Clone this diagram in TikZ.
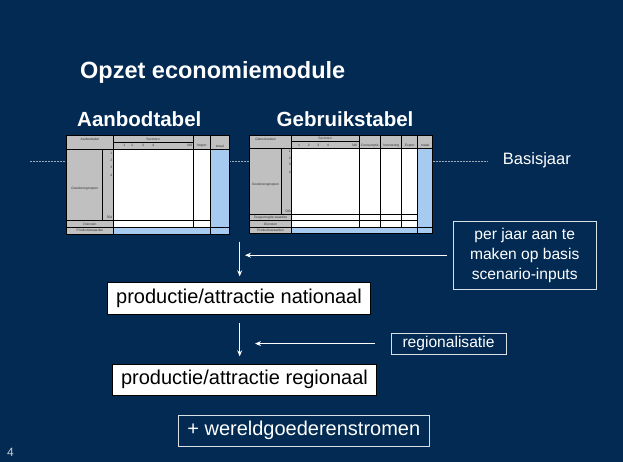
\documentclass[tikz,border=0pt]{standalone}
\usepackage{fontspec}
\setmainfont{Liberation Sans}
\usetikzlibrary{arrows.meta}
\definecolor{bg}{HTML}{022A52}
\definecolor{cellgrey}{HTML}{C0C0C0}
\definecolor{cellblue}{HTML}{A6CAF0}
\definecolor{dashcol}{HTML}{A0AAB6}
\definecolor{numcol}{HTML}{C8CCD2}
\tikzset{
  tinytxt/.style={font=\fontsize{3.3}{4}\selectfont, text=black!80, inner sep=0},
  whitebox/.style={draw=black, fill=white, line width=0.8pt, inner sep=0, text=black,
    font=\fontsize{20}{24}\selectfont},
  outlinebox/.style={draw=white!85!bg, line width=0.8pt, inner sep=0, text=white},
  arr/.style={draw=white, line width=1.3pt, -{Stealth[length=6pt,width=5pt]}},
  basisline/.style={draw=dashcol, line width=0.6pt, dash pattern=on 2pt off 1pt},
  tline/.style={draw=black, line width=0.7pt},
  heading/.style={text=white, inner sep=0, anchor=base west, font=\fontsize{20.5}{24}\selectfont\bfseries},
}
\begin{document}
\begin{tikzpicture}[x=1pt,y=-1pt]
\useasboundingbox (0,0) rectangle (623,462);
\fill[bg] (0,0) rectangle (623,462);

% title and headings
\node[heading, font=\fontsize{23.5}{28}\selectfont\bfseries] (title) at (80,78.3) {Opzet economiemodule};
\node[heading] (hA) at (77,126.7) {Aanbodtabel};
\node[heading] (hG) at (276.5,126.7) {Gebruikstabel};

% Basisjaar dashed line
\node[text=white, inner sep=0, anchor=west, font=\fontsize{16.5}{20}\selectfont] (basis) at (502.7,160.5) {Basisjaar};
\coordinate (bl) at (30,161);
\draw[basisline] (bl) -- (66.7,161);
\draw[basisline] (229,161) -- (249.3,161);
\draw[basisline] (432.7,161) -- (488,161);

% ---------------- Aanbodtabel ----------------
\fill[white] (66.7,135.7) rectangle (229,234);
\fill[cellgrey] (66.7,135.7) rectangle (229,149.3);
\fill[cellgrey] (66.7,149.3) rectangle (113.3,234);
\fill[cellblue] (210.7,149.3) rectangle (229,227);
\fill[cellblue] (113.3,227) rectangle (229,234);
\draw[tline] (66.7,135.7) rectangle (229,234);
\draw[tline] (113.3,135.7) -- (113.3,234);
\draw[tline] (193,135.7) -- (193,227);
\draw[tline] (210.7,135.7) -- (210.7,234);
\draw[tline] (102.7,149.3) -- (102.7,220.7);
\draw[tline] (66.7,149.3) -- (229,149.3);
\draw[tline] (66.7,220.7) -- (210.7,220.7);
\draw[tline] (66.7,227) -- (229,227);
\draw[draw=black, line width=0.4pt] (113.3,142.3) -- (193,142.3);
\node[tinytxt] at (90,139.3) {Aanbodtabel};
\node[tinytxt] at (153,139) {Sectoren};
\node[tinytxt] at (124.3,145.6) {1};
\node[tinytxt] at (132.3,145.6) {2};
\node[tinytxt] at (143,145.6) {3};
\node[tinytxt] at (153.3,145.6) {4};
\node[tinytxt] at (189.5,145.6) {316};
\node[tinytxt] at (201.8,146) {Import};
\node[tinytxt] at (219.8,146) {totaal};
\node[tinytxt, anchor=east] at (112.5,153.3) {1};
\node[tinytxt, anchor=east] at (112.5,160.3) {2};
\node[tinytxt, anchor=east] at (112.5,167) {3};
\node[tinytxt, anchor=east] at (112.5,175.3) {4};
\node[tinytxt, anchor=east] at (112.5,217.5) {504};
\node[tinytxt] at (84.7,188.3) {Goederengroepen};
\node[tinytxt] at (90,223.9) {Diensten};
\node[tinytxt] at (90,230.5) {Productiewaarden};

% ---------------- Gebruikstabel ----------------
\fill[white] (249.3,135.7) rectangle (432.7,233.3);
\fill[cellgrey] (249.3,135.7) rectangle (432.7,148.7);
\fill[cellgrey] (249.3,148.7) rectangle (291.7,233.3);
\fill[cellblue] (417.7,148.7) rectangle (432.7,227);
\fill[cellblue] (291.7,227) rectangle (432.7,233.3);
\draw[tline] (249.3,135.7) rectangle (432.7,233.3);
\draw[tline] (291.7,135.7) -- (291.7,233.3);
\draw[tline] (359,135.7) -- (359,227);
\draw[tline] (380.7,135.7) -- (380.7,227);
\draw[tline] (401.7,135.7) -- (401.7,227);
\draw[tline] (417.7,135.7) -- (417.7,233.3);
\draw[tline] (281.7,148.7) -- (281.7,214);
\draw[tline] (249.3,148.7) -- (432.7,148.7);
\draw[tline] (249.3,214) -- (417.7,214);
\draw[tline] (249.3,220.7) -- (417.7,220.7);
\draw[tline] (249.3,227) -- (432.7,227);
\draw[draw=black, line width=0.4pt] (291.7,141.7) -- (359,141.7);
\node[tinytxt] at (265.5,139.3) {Gebruikstabel};
\node[tinytxt] at (325,138.8) {Sectoren};
\node[tinytxt] at (299,145.3) {1};
\node[tinytxt] at (308.7,145.3) {2};
\node[tinytxt] at (318.3,145.3) {3};
\node[tinytxt] at (328,145.3) {4};
\node[tinytxt] at (354.5,145.3) {316};
\node[tinytxt] at (369.8,145.5) {Consumptie};
\node[tinytxt] at (391.2,145.5) {Investering};
\node[tinytxt] at (409.7,145.5) {Export};
\node[tinytxt] at (425.2,145.5) {totaal};
\node[tinytxt, anchor=east] at (291,151.7) {1};
\node[tinytxt, anchor=east] at (291,158.3) {2};
\node[tinytxt, anchor=east] at (291,164.3) {3};
\node[tinytxt, anchor=east] at (291,172.7) {4};
\node[tinytxt, anchor=east] at (291,211.3) {500};
\node[tinytxt] at (265.5,184.3) {Goederengroepen};
\node[tinytxt] at (270.5,217.4) {Toegevoegde waarden};
\node[tinytxt] at (270.5,224) {Diensten};
\node[tinytxt] at (270.5,230.3) {Productiewaarden};

% ---------------- flow ----------------
\node[outlinebox, minimum width=142.7pt, minimum height=68.3pt, align=center,
      font=\fontsize{15.6}{20}\selectfont] (perjaar) at (524.7,255.2)
      {per jaar aan te\\maken op basis\\scenario-inputs};
\node[whitebox, minimum width=263.4pt, minimum height=31.7pt] (nat) at (239,298.2)
      {productie/attractie nationaal};
\node[outlinebox, minimum width=115pt, minimum height=21pt,
      font=\fontsize{15.6}{20}\selectfont] (regio) at (448.5,343.6) {regionalisatie};
\node[whitebox, minimum width=264.4pt, minimum height=30.7pt] (reg) at (244.5,379.7)
      {productie/attractie regionaal};
\node[outlinebox, minimum width=251pt, minimum height=31.7pt,
      font=\fontsize{20}{24}\selectfont] (wereld) at (303.8,430.8) {+ wereldgoederenstromen};
\node[text=numcol, inner sep=0, anchor=base west, font=\fontsize{12}{14}\selectfont] (pnum) at (7,456.5) {4};

\coordinate (v1) at (239.7,241.7);
\coordinate (v2) at (239.7,323);
\coordinate (h1) at (245,257);
\coordinate (h2) at (255,344);

\draw[arr, shorten >=5.6pt] (v1) -- (v1 |- nat.north);
\draw[arr, shorten >=7.6pt] (v2) -- (v2 |- reg.north);
\draw[arr, shorten <=6.3pt] (perjaar.west) -- (h1 |- perjaar.west);
\draw[arr, shorten <=16pt] (regio.west) -- (h2 |- regio.west);
\draw[basisline, shorten >=14.7pt] (488,161) -- (basis.west);
\end{tikzpicture}
\end{document}
